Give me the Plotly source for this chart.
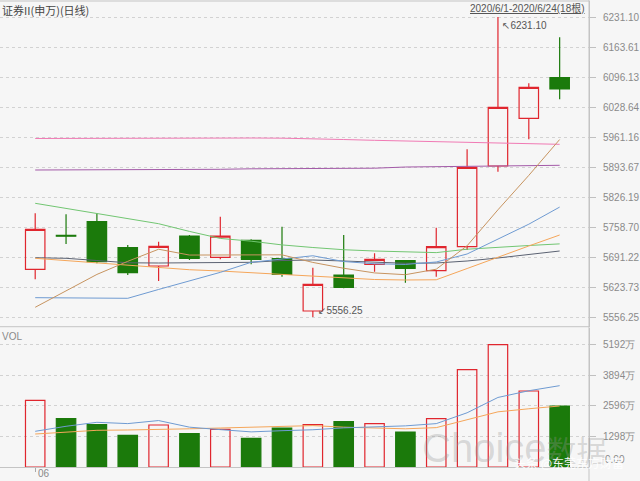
import plotly.graph_objects as go

# ---------------- data ----------------
dates = ["2020-06-01", "2020-06-02", "2020-06-03", "2020-06-04", "2020-06-05",
         "2020-06-08", "2020-06-09", "2020-06-10", "2020-06-11", "2020-06-12",
         "2020-06-15", "2020-06-16", "2020-06-17", "2020-06-18", "2020-06-19",
         "2020-06-22", "2020-06-23", "2020-06-24"]

opens = [5663.6, 5740.0, 5770.6, 5712.1, 5671.0, 5738.4, 5690.5, 5728.8, 5687.4,
         5569.7, 5650.7, 5674.8, 5682.9, 5660.4, 5714.4, 5895.9, 6003.2, 6094.6]
highs = [5789.5, 5787.3, 5789.5, 5718.2, 5725.7, 5740.6, 5781.9, 5731.0, 5759.4,
         5667.1, 5740.7, 5699.5, 5684.5, 5757.1, 5933.5, 6231.10, 6081.9, 6185.4]
lows = [5641.1, 5720.5, 5677.0, 5650.7, 5637.2, 5684.4, 5686.0, 5674.8, 5646.9,
        5556.25, 5620.8, 5658.2, 5633.4, 5646.9, 5706.9, 5883.1, 5956.0, 6046.0]
closes = [5753.5, 5738.0, 5680.7, 5655.9, 5715.3, 5688.3, 5738.4, 5686.0, 5652.3,
          5629.8, 5623.1, 5686.0, 5665.8, 5714.4, 5893.0, 6028.0, 6073.0, 6069.1]

ma5 = [5578.1, 5615.6, 5652.0, 5681.5, 5708.7, 5695.6, 5695.7, 5696.8, 5696.1,
       5679.0, 5665.9, 5655.4, 5651.4, 5663.8, 5716.5, 5797.4, 5874.8, 5955.5]
ma10 = [5599.7, 5599.0, 5598.5, 5598.3, 5618.2, 5637.2, 5656.7, 5679.3, 5687.3,
        5694.0, 5681.0, 5676.0, 5674.5, 5680.0, 5698.0, 5732.0, 5765.0, 5803.5]
ma20 = [5688.3, 5682.9, 5677.5, 5672.3, 5667.2, 5662.6, 5659.7, 5656.1, 5652.3,
        5648.5, 5644.0, 5640.6, 5639.5, 5640.0, 5665.3, 5691.2, 5716.0, 5740.7]
ma30 = [5812.0, 5800.6, 5789.1, 5777.6, 5766.1, 5748.8, 5733.0, 5726.8, 5718.4,
        5712.6, 5707.6, 5704.7, 5702.5, 5701.1, 5708.7, 5713.5, 5717.1, 5720.7]
ma60 = [5689.6, 5688.3, 5683.3, 5678.2, 5677.7, 5677.7, 5678.2, 5679.3, 5683.3,
        5684.5, 5682.2, 5678.9, 5677.1, 5677.7, 5682.2, 5689.0, 5696.8, 5704.7]
ma120 = [5886.9, 5886.9, 5887.6, 5887.8, 5888.0, 5888.3, 5888.5, 5889.6, 5890.1,
         5890.5, 5890.7, 5891.0, 5893.6, 5894.5, 5895.2, 5895.9, 5896.8, 5897.5]
ma250 = [5957.8, 5958.2, 5958.5, 5958.7, 5958.9, 5958.9, 5958.9, 5958.9, 5958.5,
         5957.8, 5955.5, 5953.7, 5952.2, 5950.4, 5948.8, 5947.2, 5945.9, 5944.7]

volumes = [2829, 2053, 1799, 1345, 1782, 1417, 1599, 1217, 1654,
           1799, 1926, 1841, 1485, 2053, 4132, 5192, 3224, 2588]
vol_ma5 = [1514, 1727, 1896, 1841, 1970, 1690, 1585, 1490, 1540,
           1580, 1660, 1700, 1745, 1840, 2300, 2950, 3235, 3450]
vol_ma10 = [1400, 1472, 1557, 1570, 1587, 1620, 1654, 1684, 1727,
            1756, 1690, 1650, 1620, 1670, 2000, 2340, 2470, 2588]

price_ticks = [5556.25, 5623.73, 5691.22, 5758.70, 5826.19, 5893.67,
               5961.16, 6028.64, 6096.13, 6163.61, 6231.10]
vol_ticks = [1298, 2596, 3894, 5192]
month_label = "06"
title_text = "证券II(申万)(日线)"

# ---------------- styles ----------------
RED = "#e0262e"
GREEN = "#1b7a0b"
BG = "#f6f6f6"
GRID = "#d2d2d2"
AXIS = "#c4c4c4"
TICKF = dict(family="Liberation Sans, Arial, sans-serif", size=10, color="#8a8a8a")

W, H = 640, 481
L, R, T, B = 0, 51, 1, 14
PW, PH = W - L - R, H - T - B


def py(p):  # pixel y -> paper
    return (H - B - p) / PH


def px(p):
    return (p - L) / PW


fig = go.Figure()

fig.add_trace(go.Candlestick(
    x=dates, open=opens, high=highs, low=lows, close=closes,
    increasing=dict(line=dict(color=RED, width=1.2), fillcolor="rgba(0,0,0,0)"),
    decreasing=dict(line=dict(color=GREEN, width=1.2), fillcolor=GREEN),
    whiskerwidth=0, xaxis="x", yaxis="y", showlegend=False, hoverinfo="skip"))

ma_series = [(ma250, "#f07ab4"), (ma120, "#a35aa8"), (ma30, "#72c672"),
             (ma60, "#5b6272"), (ma20, "#f5a65a"), (ma10, "#6f9bd2"), (ma5, "#c79460")]
for vals, col in ma_series:
    fig.add_trace(go.Scatter(x=dates, y=vals, mode="lines", line=dict(color=col, width=1),
                             xaxis="x", yaxis="y", showlegend=False, hoverinfo="skip"))

up = [c >= o for o, c in zip(opens, closes)]
fig.add_trace(go.Bar(
    x=dates, y=volumes, xaxis="x", yaxis="y2", showlegend=False, hoverinfo="skip",
    marker=dict(color=["rgba(0,0,0,0)" if u else GREEN for u in up],
                line=dict(color=[RED if u else GREEN for u in up], width=1.2))))
fig.add_trace(go.Scatter(x=dates, y=vol_ma10, mode="lines", line=dict(color="#f5a65a", width=1),
                         xaxis="x", yaxis="y2", showlegend=False, hoverinfo="skip"))
fig.add_trace(go.Scatter(x=dates, y=vol_ma5, mode="lines", line=dict(color="#6f9bd2", width=1),
                         xaxis="x", yaxis="y2", showlegend=False, hoverinfo="skip"))

# pixel-based axis calibration
x_lo = (0 - 35.2) / 30.85
x_hi = (PW - 35.2) / 30.85
p_top = 6231.10 + (17 - T) * 2.2495
p_bot = 6231.10 - (327 - 17) * 2.2495
v_top = (H - B - 328) * 42.42

fig.update_layout(
    width=W, height=H, autosize=False,
    margin=dict(l=L, r=R, t=T, b=B, pad=0),
    paper_bgcolor=BG, plot_bgcolor=BG,
    showlegend=False, bargap=0.37, boxgap=0.37, boxgroupgap=0,
    xaxis=dict(type="category", domain=[0, 1], range=[x_lo, x_hi], anchor="y2",
               rangeslider=dict(visible=False), showgrid=False, zeroline=False,
               showline=True, linecolor=AXIS, linewidth=1,
               ticks="outside", ticklen=4, tickcolor="#aaaaaa",
               tickmode="array", tickvals=[dates[0]], ticktext=[""]),
    yaxis=dict(domain=[py(327), 1], range=[p_bot, p_top], side="right", anchor="x",
               tickmode="array", tickvals=price_ticks,
               ticktext=[f"{v:.2f}" for v in price_ticks],
               showgrid=True, gridcolor=GRID, griddash="dot", gridwidth=1,
               zeroline=False, showline=True, linecolor=AXIS,
               ticks="outside", ticklen=6, tickcolor="#c0c0c0",
               tickfont=TICKF, ticklabelstandoff=5),
    yaxis2=dict(domain=[0, py(328)], range=[0, v_top], side="right", anchor="x",
                tickmode="array", tickvals=vol_ticks,
                ticktext=[f"{v}万" for v in vol_ticks],
                showgrid=True, gridcolor=GRID, griddash="dot", gridwidth=1,
                zeroline=False, showline=True, linecolor=AXIS,
                ticks="outside", ticklen=6, tickcolor="#c0c0c0",
                tickfont=TICKF, ticklabelstandoff=5),
)

shapes = [
    dict(type="line", xref="paper", yref="paper", x0=0, x1=1, y0=py(1), y1=py(1),
         line=dict(color=AXIS, width=1)),
    dict(type="line", xref="paper", yref="paper", x0=0, x1=1, y0=py(326.7), y1=py(326.7),
         line=dict(color=AXIS, width=1)),
    dict(type="line", xref="paper", yref="paper", x0=1, x1=1, y0=py(H), y1=py(0),
         line=dict(color=AXIS, width=1)),
]
fig.update_layout(shapes=shapes)

d0 = dates[0].split("-")
d1 = dates[-1].split("-")
range_text = f"{int(d0[0])}/{int(d0[1])}/{int(d0[2])}-{int(d1[0])}/{int(d1[1])}/{int(d1[2])}({len(dates)}根)"

hi_i = highs.index(max(highs))
lo_i = lows.index(min(lows))
ARROWF = dict(family="Liberation Sans, DejaVu Sans, sans-serif", size=10, color="#555555")

ann = [
    dict(text=title_text, xref="paper", yref="paper", x=0, y=py(0), xanchor="left", yanchor="top",
         showarrow=False, font=dict(family="Noto Sans CJK SC", size=11, color="#444444")),
    dict(text=f"<u>{range_text}</u>", xref="paper", yref="paper", x=px(587), y=py(0),
         xanchor="right", yanchor="top", showarrow=False,
         font=dict(family="Liberation Sans, Noto Sans CJK SC", size=10, color="#555555")),
    dict(text="VOL", xref="paper", yref="paper", x=0, y=py(329), xanchor="left", yanchor="top",
         showarrow=False, font=dict(family="Liberation Sans", size=10, color="#8a8a8a")),
    dict(text="0.00", xref="paper", yref="paper", x=px(603), y=py(459), xanchor="left",
         yanchor="middle", showarrow=False, font=TICKF),
    dict(text=month_label, xref="x", yref="paper", x=dates[0], y=py(473.5), xanchor="left",
         yanchor="middle", xshift=1, showarrow=False,
         font=dict(family="Liberation Sans", size=10, color="#8a8a8a")),
    dict(text=f"↖{highs[hi_i]:.2f}", xref="x", yref="y", x=dates[hi_i], y=highs[hi_i],
         xanchor="left", yanchor="top", xshift=2, yshift=-1, showarrow=False, font=ARROWF),
    dict(text=f"↙{lows[lo_i]:.2f}", xref="x", yref="y", x=dates[lo_i], y=lows[lo_i],
         xanchor="left", yanchor="bottom", xshift=3, yshift=-1, showarrow=False, font=ARROWF),
    dict(text="Choice<span style='font-size:30px'>数据</span>", xref="paper", yref="paper",
         x=px(420), y=py(448), xanchor="left", yanchor="middle", showarrow=False,
         font=dict(family="Liberation Sans, Noto Sans CJK SC", size=40,
                   color="rgba(150,150,150,0.32)")),
    dict(text="头条 @东莞东方财富", xref="paper", yref="paper", x=px(626), y=py(462),
         xanchor="right", yanchor="middle", showarrow=False,
         font=dict(family="Noto Sans CJK SC", size=12, color="rgba(255,255,255,0.95)")),
]
fig.update_layout(annotations=ann)

fig.write_html("out.html", config={"displayModeBar": False},
               post_script="document.body.style.margin='0';document.body.style.background='#f6f6f6';")
